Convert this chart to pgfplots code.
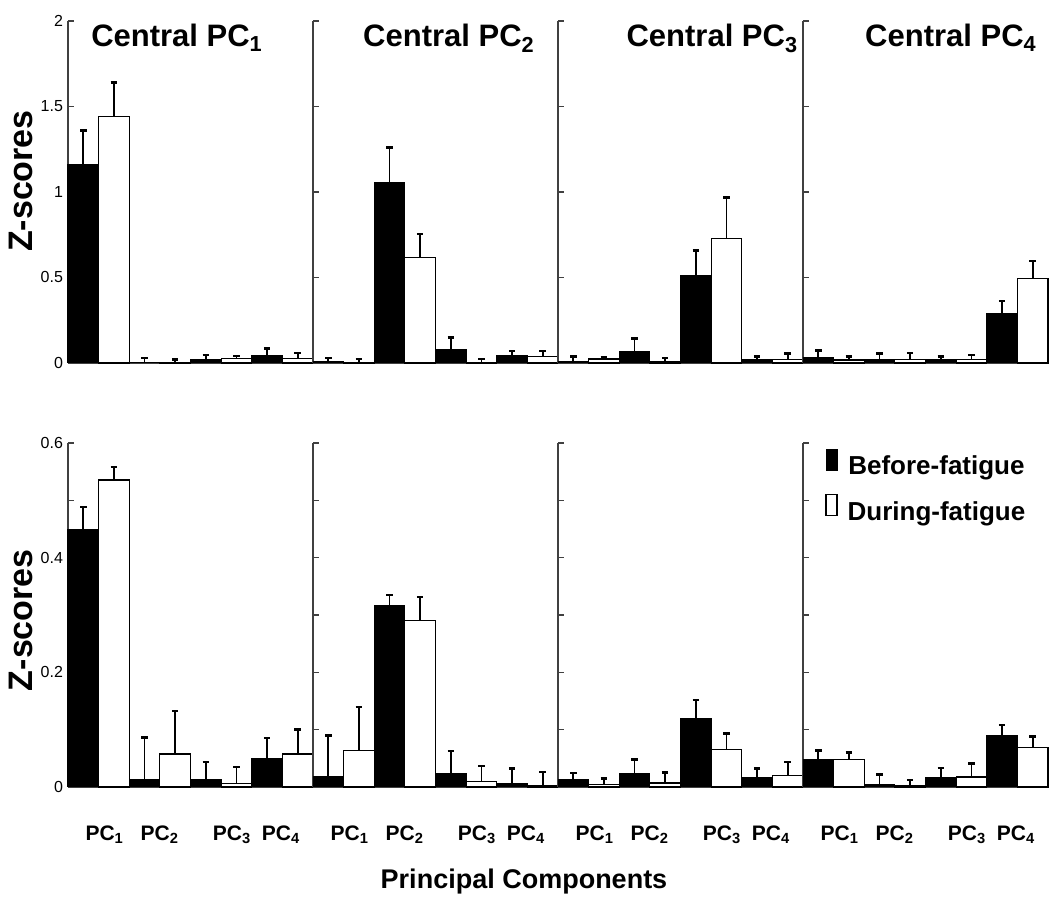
\documentclass[border=0pt]{standalone}
\usepackage{fontspec}
\setmainfont{Liberation Sans}
\usepackage{pgfplots}
\pgfplotsset{compat=1.18}
\tikzset{
  ttl/.style={anchor=base, font=\bfseries\fontsize{15.5}{18}\selectfont},
  zlab/.style={font=\bfseries\fontsize{17}{20}\selectfont},
}
\pgfplotsset{
  panel/.style={
    scale only axis, width=122.5pt, anchor=south west,
    xmin=0.5, xmax=4.5, ymin=0,
    axis x line*=bottom, axis y line*=left,
    axis line style={-, black!75, line width=0.7pt},
    tick align=inside, major tick length=3pt,
    ytick style={black!75, line width=0.6pt},
    xtick style={draw=none},
    ybar, bar width=0.5, clip=false,
    /pgf/number format/assume math mode=true,
    yticklabel style={font=\fontsize{8}{9}\selectfont, xshift=1pt},
  },
  toprow/.style={height=171pt, ymax=2, ytick={0,0.5,1,1.5,2}, xtick=\empty},
  botrow/.style={height=172pt, ymax=0.6, ytick={0,0.1,0.2,0.3,0.4,0.5,0.6},
    xtick={1.1,2,3.18,3.98},
    xticklabels={PC\textsubscript{1},PC\textsubscript{2},PC\textsubscript{3},PC\textsubscript{4}},
    xticklabel style={font=\bfseries\fontsize{10.5}{12}\selectfont, anchor=center, yshift=-21pt}},
  noylab/.style={yticklabels={,,,,,,,}},
  blk/.style={fill=black, draw=black, line width=0.5pt, bar shift=-0.25,
    error bars/.cd, y dir=plus, y explicit,
    error bar style={black, line width=0.9pt},
    error mark options={black, line width=1.2pt, mark size=1.6pt, rotate=90}},
  wht/.style={fill=white, draw=black, line width=0.6pt, bar shift=0.25,
    error bars/.cd, y dir=plus, y explicit,
    error bar style={black, line width=0.9pt},
    error mark options={black, line width=1.2pt, mark size=1.6pt, rotate=90}},
}
\begin{document}
\begin{tikzpicture}
\useasboundingbox (0,0) rectangle (525pt,460pt);
% ---------------- top row ----------------
\begin{axis}[panel, toprow, at={(34pt,278.5pt)},
  yticklabels={0,0.5,1,1.5,2},
  ylabel={Z-scores}, ylabel style={zlab, at={(axis description cs:-0.19,0.532)}, anchor=center}]
\addplot[blk] coordinates {(1,1.16) +- (0,0.20) (2,0.003) +- (0,0.025) (3,0.02) +- (0,0.027) (4,0.045) +- (0,0.04)};
\addplot[wht] coordinates {(1,1.44) +- (0,0.20) (2,0.005) +- (0,0.015) (3,0.025) +- (0,0.015) (4,0.025) +- (0,0.035)};
\node[ttl] at (axis description cs:0.445,0.924) {Central PC\textsubscript{1}};
\end{axis}
\begin{axis}[panel, toprow, noylab, at={(156.5pt,278.5pt)}]
\addplot[blk] coordinates {(1,0.01) +- (0,0.02) (2,1.054) +- (0,0.206) (3,0.076) +- (0,0.072) (4,0.041) +- (0,0.03)};
\addplot[wht] coordinates {(1,0.003) +- (0,0.022) (2,0.616) +- (0,0.137) (3,0.005) +- (0,0.02) (4,0.04) +- (0,0.03)};
\node[ttl] at (axis description cs:0.555,0.924) {Central PC\textsubscript{2}};
\end{axis}
\begin{axis}[panel, toprow, noylab, at={(279pt,278.5pt)}]
\addplot[blk] coordinates {(1,0.008) +- (0,0.029) (2,0.07) +- (0,0.074) (3,0.513) +- (0,0.144) (4,0.018) +- (0,0.019)};
\addplot[wht] coordinates {(1,0.023) +- (0,0.01) (2,0.008) +- (0,0.022) (3,0.729) +- (0,0.238) (4,0.022) +- (0,0.034)};
\node[ttl] at (axis description cs:0.63,0.924) {Central PC\textsubscript{3}};
\end{axis}
\begin{axis}[panel, toprow, noylab, at={(401.5pt,278.5pt)}]
\addplot[blk] coordinates {(1,0.033) +- (0,0.039) (2,0.023) +- (0,0.033) (3,0.018) +- (0,0.019) (4,0.287) +- (0,0.077)};
\addplot[wht] coordinates {(1,0.018) +- (0,0.019) (2,0.02) +- (0,0.04) (3,0.02) +- (0,0.027) (4,0.495) +- (0,0.101)};
\node[ttl] at (axis description cs:0.604,0.924) {Central PC\textsubscript{4}};
\end{axis}
% ---------------- bottom row ----------------
\begin{axis}[panel, botrow, at={(34pt,66.5pt)},
  yticklabels={0,,0.2,,0.4,,0.6},
  ylabel={Z-scores}, ylabel style={zlab, at={(axis description cs:-0.19,0.485)}, anchor=center}]
\addplot[blk] coordinates {(1,0.45) +- (0,0.038) (2,0.013) +- (0,0.073) (3,0.013) +- (0,0.031) (4,0.049) +- (0,0.036)};
\addplot[wht] coordinates {(1,0.5355) +- (0,0.0225) (2,0.0576) +- (0,0.075) (3,0.006) +- (0,0.029) (4,0.0576) +- (0,0.043)};
\end{axis}
\begin{axis}[panel, botrow, noylab, at={(156.5pt,66.5pt)}]
\addplot[blk] coordinates {(1,0.0175) +- (0,0.0725) (2,0.316) +- (0,0.0185) (3,0.023) +- (0,0.04) (4,0.006) +- (0,0.026)};
\addplot[wht] coordinates {(1,0.064) +- (0,0.076) (2,0.29) +- (0,0.041) (3,0.009) +- (0,0.028) (4,0.003) +- (0,0.023)};
\end{axis}
\begin{axis}[panel, botrow, noylab, at={(279pt,66.5pt)}]
\addplot[blk] coordinates {(1,0.013) +- (0,0.011) (2,0.023) +- (0,0.025) (3,0.119) +- (0,0.033) (4,0.016) +- (0,0.016)};
\addplot[wht] coordinates {(1,0.004) +- (0,0.011) (2,0.007) +- (0,0.018) (3,0.065) +- (0,0.028) (4,0.0204) +- (0,0.0236)};
\end{axis}
\begin{axis}[panel, botrow, noylab, at={(401.5pt,66.5pt)},
  legend style={at={(axis description cs:0.09,0.985)}, anchor=north west, draw=none, fill=none,
    font=\bfseries\fontsize{13}{15}\selectfont, row sep=6pt, inner sep=0pt,
    nodes={inner xsep=5pt}},
  legend image code/.code={\draw[#1] (0pt,-1.5pt) rectangle (5.5pt,9pt);}]
\addplot[blk] coordinates {(1,0.048) +- (0,0.016) (2,0.005) +- (0,0.017) (3,0.016) +- (0,0.017) (4,0.089) +- (0,0.019)};
\addplot[wht] coordinates {(1,0.048) +- (0,0.012) (2,0.003) +- (0,0.009) (3,0.0175) +- (0,0.0235) (4,0.069) +- (0,0.019)};
\legend{Before-fatigue, During-fatigue}
\end{axis}
\node[font=\bfseries\fontsize{13.5}{15}\selectfont] at (262pt,19pt) {Principal Components};
\end{tikzpicture}
\end{document}
